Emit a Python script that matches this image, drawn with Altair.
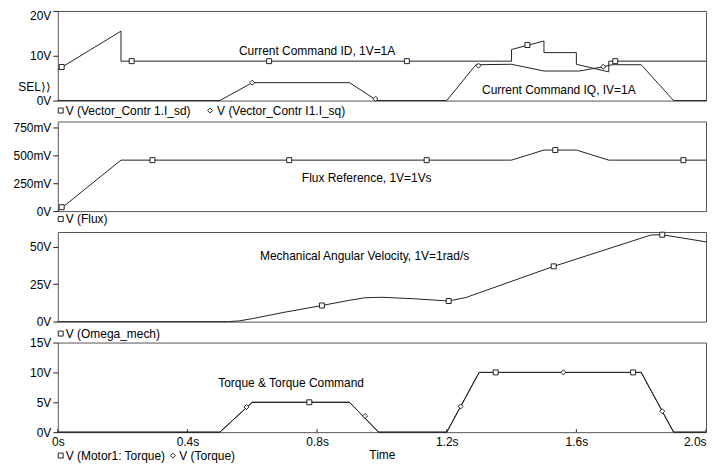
import altair as alt
import pandas as pd

FONT = "Liberation Sans"
INK = "#222222"
FRAME = "#555555"

X_DOMAIN = [0, 2.0]
X_TICKS = [0, 0.4, 0.8, 1.2, 1.6, 2.0]

# ---------------- panel 1 : current commands ----------------
ISD_NAME = "V (Vector_Contr 1.I_sd)"
ISQ_NAME = "V (Vector_Contr I1.I_sq)"
isd_t = [0, 0.195, 0.195, 1.40, 1.40, 1.50, 1.50, 1.60, 1.60, 1.70, 1.70, 2.0]
isd_v = [6.9, 15.5, 8.8, 8.8, 11.4, 13.3, 10.7, 10.7, 8.1, 6.4, 8.8, 8.8]
isq_t = [0, 0.5, 0.6, 0.9, 0.985, 1.2, 1.29, 1.40, 1.50, 1.61, 1.683, 1.71, 1.80, 1.90, 2.0]
isq_v = [0, 0, 4.0, 4.0, 0, 0, 8.0, 8.1, 6.6, 6.6, 7.55, 8.0, 8.0, 0, 0]
isd_mark_t = [0.012, 0.228, 0.652, 1.077, 1.449, 1.72]
isd_mark_v = [7.5, 8.8, 8.8, 8.8, 12.4, 8.8]
isq_mark_t = [0.6, 0.98, 1.298, 1.683]
isq_mark_v = [4.0, 0.4, 7.8, 7.55]

# ---------------- panel 2 : flux ----------------
FLUX_NAME = "V (Flux)"
flux_t = [0, 0.195, 1.40, 1.50, 1.60, 1.70, 2.0]
flux_v = [0.0, 0.455, 0.455, 0.545, 0.545, 0.455, 0.455]
flux_mark_t = [0.012, 0.292, 0.714, 1.138, 1.535, 1.93]
flux_mark_v = [0.035, 0.455, 0.455, 0.455, 0.545, 0.455]

# ---------------- panel 3 : omega ----------------
OMEGA_NAME = "V (Omega_mech)"
omega_t = [0, 0.527, 0.56, 0.6, 0.7, 0.815, 0.9, 0.948, 1.0, 1.1, 1.206, 1.26, 1.53, 1.83, 1.865, 2.0]
omega_v = [0, 0, 0.5, 2.0, 6.3, 10.8, 14.3, 16.0, 16.3, 15.3, 13.8, 16.2, 37.0, 58.0, 58.2, 53.4]
omega_mark_t = [0.815, 1.206, 1.53, 1.865]
omega_mark_v = [10.8, 13.8, 37.0, 58.2]

# ---------------- panel 4 : torque ----------------
MT_NAME = "V (Motor1: Torque)"
TQ_NAME = "V (Torque)"
mt_t = [0, 0.5, 0.6, 0.9, 0.99, 1.2, 1.3, 1.8, 1.9, 2.0]
mt_v = [0, 0, 5, 5, 0, 0, 10, 10, 0, 0]
tq_t = [0, 0.5, 0.6, 0.9, 0.99, 1.2, 1.3, 1.8, 1.9, 2.0]
tq_v = [0, 0, 5, 5, 0, 0, 10, 10, 0, 0]
mt_mark_t = [0.776, 1.351, 1.775]
mt_mark_v = [5, 10, 10]
tq_mark_t = [0.582, 0.948, 1.243, 1.56, 1.865]
tq_mark_v = [4.2, 2.7, 4.3, 10, 3.5]

# ---------------- annotation layout (data coordinates) ----------------
p1_notes = (["Current Command ID, 1V=1A", "Current Command IQ, IV=1A"], [0.559, 1.309], [11.1, 2.44])
p1_side = (["SEL\u27e9\u27e9"], [-0.0215], [3.0])
p2_notes = (["Flux Reference, 1V=1Vs"], [0.753], [0.293])
p3_notes = (["Mechanical Angular Velocity, 1V=1rad/s"], [0.624], [44.0])
p4_notes = (["Torque & Torque Command"], [0.495], [8.17])

# legend rows under each panel: (symbol t, label t) per entry, and the row's v
p1_key = ([ISD_NAME, ISQ_NAME], ["square", "diamond"], [0.009, 0.470], [0.0246, 0.4916], -2.22)
p2_key = ([FLUX_NAME], ["square"], [0.009], [0.0246], -0.071)
p3_key = ([OMEGA_NAME], ["square"], [0.009], [0.0246], -8.0)
p4_key = ([MT_NAME, TQ_NAME], ["square", "diamond"], [0.009, 0.355], [0.0246, 0.375], -3.92)

tick_v = [0] * len(X_TICKS)
tick_v2 = [0.5] * len(X_TICKS)


def lines_frame(series):
    rows = []
    for name, ts, vs in series:
        for i, (t, v) in enumerate(zip(ts, vs)):
            rows.append({"series": name, "t": t, "v": v, "i": i})
    return pd.DataFrame(rows)


def marks_frame(series):
    rows = []
    for name, ts, vs, shape in series:
        for t, v in zip(ts, vs):
            rows.append({"series": name, "t": t, "v": v, "shape": shape})
    return pd.DataFrame(rows)


def notes_frame(labels, ts, vs):
    return pd.DataFrame({"label": labels, "t": ts, "v": vs})


def text_layer(df, xenc, yenc, align):
    return alt.Chart(df).mark_text(
        align=align, baseline="middle", font=FONT, fontSize=12, color="black"
    ).encode(x=xenc, y=yenc, text="label:N")


def make_panel(series, markers, key, ydomain, yticks, yexpr, height,
               notes, side=None, xaxis=None, extra=None, ybaseline="middle"):
    xenc = alt.X("t:Q", scale=alt.Scale(domain=X_DOMAIN, nice=False, zero=False), axis=xaxis)
    yaxis = alt.Axis(values=yticks, labelExpr=yexpr, title=None, grid=False, domain=False,
                     ticks=True, tickSize=5, tickColor=INK, labelPadding=2,
                     labelFont=FONT, labelFontSize=12, labelColor="black",
                     labelBaseline=ybaseline)
    yenc = alt.Y("v:Q", scale=alt.Scale(domain=ydomain, nice=False, zero=False), axis=yaxis)
    shape_enc = alt.Shape("shape:N", scale=None, legend=None)

    line = alt.Chart(lines_frame(series)).mark_line(color=INK, strokeWidth=1).encode(
        x=xenc, y=yenc, detail="series:N", order="i:Q")
    pts = alt.Chart(marks_frame(markers)).mark_point(
        filled=True, fill="white", stroke=INK, strokeWidth=1, size=25, opacity=1
    ).encode(x=xenc, y=yenc, shape=shape_enc)

    names, shapes, sym_t, lab_t, row_v = key
    key_sym = pd.DataFrame({"t": sym_t, "v": [row_v] * len(names), "shape": shapes})
    key_lab = pd.DataFrame({"t": lab_t, "v": [row_v] * len(names), "label": names})
    key_pts = alt.Chart(key_sym).mark_point(
        filled=True, fill="white", stroke=INK, strokeWidth=1, size=25, opacity=1
    ).encode(x=xenc, y=yenc, shape=shape_enc)

    layers = [line, pts, text_layer(notes_frame(*notes), xenc, yenc, "left"),
              key_pts, text_layer(key_lab, xenc, yenc, "left")]
    if side is not None:
        layers.append(text_layer(notes_frame(*side), xenc, yenc, "right"))
    if extra is not None:
        layers.append(extra(xenc, yenc))
    return alt.layer(*layers).properties(width=651, height=height)


p1 = make_panel(
    [(ISD_NAME, isd_t, isd_v), (ISQ_NAME, isq_t, isq_v)],
    [(ISD_NAME, isd_mark_t, isd_mark_v, "square"), (ISQ_NAME, isq_mark_t, isq_mark_v, "diamond")],
    p1_key, [0, 20], [0, 10, 20], "datum.value + 'V'", 90, p1_notes, side=p1_side,
    ybaseline={"condition": {"test": "datum.value >= 20", "value": "top"}, "value": "middle"},
)

p2 = make_panel(
    [(FLUX_NAME, flux_t, flux_v)],
    [(FLUX_NAME, flux_mark_t, flux_mark_v, "square")],
    p2_key, [0, 0.8], [0, 0.25, 0.5, 0.75],
    "datum.value == 0 ? '0V' : format(datum.value * 1000, 'd') + 'mV'", 90, p2_notes,
)

p3 = make_panel(
    [(OMEGA_NAME, omega_t, omega_v)],
    [(OMEGA_NAME, omega_mark_t, omega_mark_v, "square")],
    p3_key, [0, 60], [0, 25, 50], "datum.value + 'V'", 90, p3_notes,
)


def torque_ticks(xenc, yenc):
    df = pd.DataFrame({"t": X_TICKS, "v": tick_v, "v2": tick_v2})
    return alt.Chart(df).mark_rule(color=INK, strokeWidth=1).encode(x=xenc, y=yenc, y2="v2:Q")


x_axis4 = alt.Axis(values=X_TICKS, labelExpr="datum.value == 0 ? '0s' : format(datum.value, '.1f') + 's'",
                   ticks=False, domain=False, grid=False, labelPadding=4, labelFlush=False,
                   labelAlign={"condition": {"test": "datum.value >= 2", "value": "right"}, "value": "center"},
                   labelFont=FONT, labelFontSize=12, labelColor="black",
                   title="Time", titlePadding=2, titleFont=FONT, titleFontSize=12,
                   titleFontWeight="normal", titleColor="black")

p4 = make_panel(
    [(MT_NAME, mt_t, mt_v), (TQ_NAME, tq_t, tq_v)],
    [(MT_NAME, mt_mark_t, mt_mark_v, "square"), (TQ_NAME, tq_mark_t, tq_mark_v, "diamond")],
    p4_key, [0, 15], [0, 5, 10, 15], "datum.value + 'V'", 90, p4_notes,
    xaxis=x_axis4, extra=torque_ticks,
)

chart = alt.vconcat(p1, p2, p3, p4, spacing=21, bounds="flush").properties(
    padding={"left": 4, "top": 0, "right": 0, "bottom": 0},
    background="white",
).configure_view(stroke=FRAME, strokeWidth=1)

chart.save("out.html", embed_options={"renderer": "svg", "actions": False})
